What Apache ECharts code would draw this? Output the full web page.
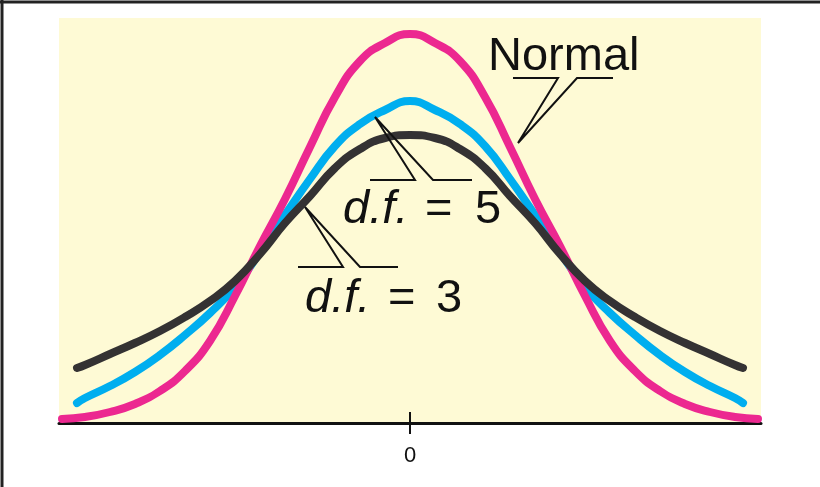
<!DOCTYPE html>
<html>
<head>
<meta charset="utf-8">
<script src="https://cdn.jsdelivr.net/npm/echarts@6.0.0/dist/echarts.min.js"></script>
<style>
  html, body { margin: 0; padding: 0; background: #fff; }
  #chart { width: 820px; height: 487px; }
</style>
</head>
<body>
<div id="chart"></div>
<script>
// values (x in std units, y as density height)
var xNormal = [-3.48, -3.25, -3, -2.75, -2.5, -2.25, -2, -1.75, -1.5, -1.25, -1, -0.75, -0.5, -0.25, 0,
               0.25, 0.5, 0.75, 1, 1.25, 1.5, 1.75, 2, 2.25, 2.5, 2.75, 3, 3.25, 3.48];
var yNormal = [0.004, 0.006, 0.011, 0.019, 0.032, 0.052, 0.082, 0.127, 0.177, 0.224, 0.276, 0.326, 0.362, 0.380, 0.389,
               0.380, 0.362, 0.326, 0.276, 0.224, 0.177, 0.127, 0.082, 0.052, 0.032, 0.019, 0.011, 0.006, 0.004];

var xT = [-3.33, -3.25, -3, -2.75, -2.5, -2.25, -2, -1.75, -1.5, -1.25, -1, -0.75, -0.5, -0.25, 0,
          0.25, 0.5, 0.75, 1, 1.25, 1.5, 1.75, 2, 2.25, 2.5, 2.75, 3, 3.25, 3.33];
var yT5 = [0.020, 0.025, 0.037, 0.051, 0.068, 0.088, 0.110, 0.136, 0.171, 0.208, 0.244, 0.277, 0.299, 0.313, 0.322,
           0.313, 0.299, 0.277, 0.244, 0.208, 0.171, 0.136, 0.110, 0.088, 0.068, 0.051, 0.037, 0.025, 0.020];
var yT3 = [0.055, 0.058, 0.069, 0.080, 0.092, 0.106, 0.122, 0.142, 0.169, 0.200, 0.227, 0.255, 0.274, 0.285, 0.288,
           0.285, 0.274, 0.255, 0.227, 0.200, 0.169, 0.142, 0.122, 0.106, 0.092, 0.080, 0.069, 0.058, 0.055];

var tickValues = [0];

function pairs(xs, ys) {
  return xs.map(function (x, i) { return [x, ys[i]]; });
}

var FONT = '"Liberation Sans", Arial, Helvetica, sans-serif';

function label(x, y, str, italic) {
  return {
    type: 'text', x: x, y: y, z: 100,
    style: {
      text: str,
      font: (italic ? 'italic ' : '') + '47px ' + FONT,
      fill: '#111',
      verticalAlign: 'middle'
    }
  };
}
function leader(points) {
  return {
    type: 'polyline', z: 100,
    shape: { points: points },
    style: { stroke: '#111', lineWidth: 2, fill: null }
  };
}

var chart = echarts.init(document.getElementById('chart'), null, { renderer: 'canvas' });

chart.setOption({
  animation: false,
  backgroundColor: '#fff',
  grid: {
    left: 59, right: 59, top: 18, bottom: 64,
    show: true, backgroundColor: '#fefad5', borderWidth: 0
  },
  xAxis: [{
    type: 'value', min: -3.51, max: 3.51,
    splitLine: { show: false },
    axisLine: { show: true, lineStyle: { color: '#111', width: 3 } },
    axisTick: { show: true, length: 11, customValues: tickValues, lineStyle: { color: '#111', width: 2 } },
    axisLabel: { show: true, customValues: tickValues, margin: 22, fontSize: 22, color: '#111', fontFamily: FONT }
  }, {
    type: 'value', min: -3.51, max: 3.51, position: 'bottom', gridIndex: 0,
    splitLine: { show: false },
    axisLine: { show: false },
    axisTick: { show: true, inside: true, length: 11, customValues: tickValues, lineStyle: { color: '#111', width: 2 } },
    axisLabel: { show: false }
  }],
  yAxis: {
    type: 'value', min: 0, max: 0.405, show: false,
    splitLine: { show: false }
  },
  series: [
    {
      name: 'd.f. = 5', type: 'line', smooth: 0.5, symbol: 'none', clip: false,
      lineStyle: { color: '#00aeef', width: 8, cap: 'round' },
      data: pairs(xT, yT5)
    },
    {
      name: 'Normal', type: 'line', smooth: 0.5, symbol: 'none', clip: false,
      lineStyle: { color: '#ec2890', width: 8, cap: 'round' },
      data: pairs(xNormal, yNormal)
    },
    {
      name: 'd.f. = 3', type: 'line', smooth: 0.5, symbol: 'none', clip: false,
      lineStyle: { color: '#343233', width: 8, cap: 'round' },
      data: pairs(xT, yT3)
    }
  ],
  graphic: [
    // frame edges
    { type: 'line', shape: { x1: 2, y1: 0, x2: 2, y2: 487 }, style: { stroke: '#222', lineWidth: 3 } },
    { type: 'line', shape: { x1: 0, y1: 2, x2: 820, y2: 2 }, style: { stroke: '#222', lineWidth: 3 } },

    label(488, 57, 'Normal', false),
    leader([[513, 78], [558, 78], [518, 143], [577, 78], [613, 78]]),

    label(343, 210, 'd.f.', true),
    label(425, 210, '=', false),
    label(475, 210, '5', false),
    leader([[370, 180], [415, 180], [375, 117], [433, 180], [472, 180]]),

    label(305, 299, 'd.f.', true),
    label(388, 299, '=', false),
    label(436, 299, '3', false),
    leader([[298, 267], [343, 267], [305, 207], [360, 267], [398, 267]])
  ]
});
</script>
</body>
</html>
